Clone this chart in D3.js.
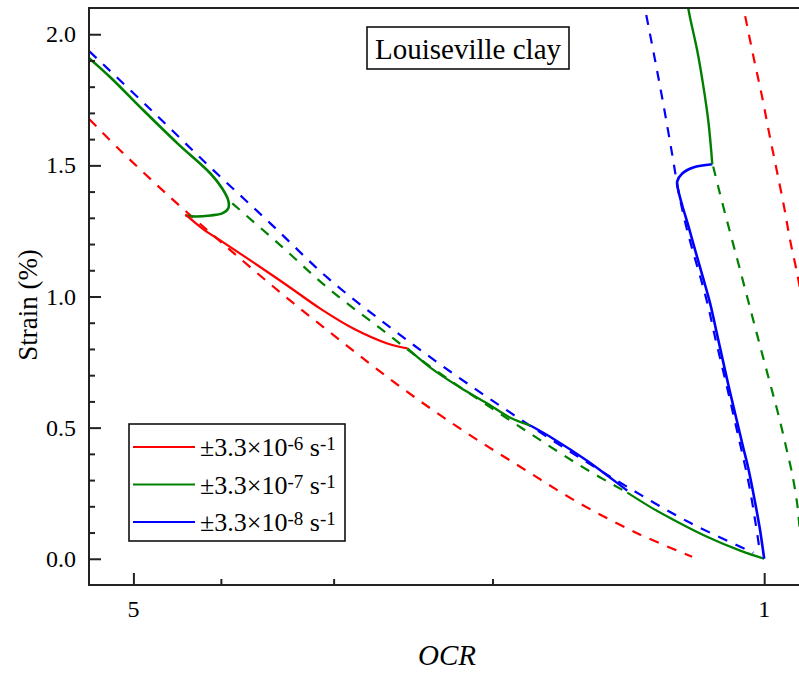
<!DOCTYPE html>
<html>
<head>
<meta charset="utf-8">
<script src="https://cdn.jsdelivr.net/npm/d3@7"></script>
</head>
<body style="margin:0">
<svg id="chart" width="799" height="673"></svg>
<script>
// ---- Data: [OCR, strain (%)] ----
// Measured curves (solid), one array per strain-rate stage
const testRate6 = [[4.379,1.313],[4.182,1.256],[4.006,1.214],[3.682,1.130],[3.377,1.042],[3.104,0.954],[2.853,0.878],[2.616,0.821],[2.485,0.802]];
const testRate7Upper = [[5.595,1.908],[5.304,1.836],[4.875,1.710],[4.469,1.584],[4.108,1.469],[3.986,1.412],[3.925,1.366],[3.925,1.336],[3.986,1.317],[4.108,1.309],[4.269,1.305],[4.379,1.309]];
const testRate7Mid = [[2.485,0.802],[2.344,0.729],[2.172,0.653],[2.027,0.592],[1.911,0.538],[1.816,0.508]];
const testRate8Mid = [[1.816,0.508],[1.713,0.458],[1.571,0.374],[1.481,0.309],[1.418,0.260]];
const testRate7Low = [[1.418,0.252],[1.338,0.198],[1.261,0.149],[1.157,0.084],[1.063,0.031],[1.0,0.0]];
const testRate8Reload = [[1.0,0.0],[1.0103,0.107],[1.018,0.172],[1.0417,0.347],[1.0550,0.424],[1.0768,0.553],[1.0934,0.649],[1.1130,0.767],[1.1302,0.870],[1.1477,0.973],[1.1683,1.069],[1.1925,1.176],[1.2139,1.271],[1.2325,1.347],[1.2451,1.405],[1.2484,1.439],[1.2325,1.469],[1.1985,1.492],[1.1417,1.504]];
const testRate7Reload = [[1.1417,1.504],[1.1448,1.557],[1.1535,1.672],[1.1683,1.805],[1.1865,1.939],[1.2078,2.061],[1.217,2.12]];

// Model predictions (dashed)
const modelRate6 = [[5.595,1.676],[5.17,1.557],[4.55,1.378],[4.006,1.210],[3.436,1.015],[2.949,0.832],[2.531,0.656],[2.172,0.496],[1.864,0.351],[1.599,0.210],[1.372,0.092],[1.202,0.008]];
const modelRate6Reload = [[1.0497,2.069],[1.0258,1.901],[1.0051,1.760],[0.9873,1.622],[0.9699,1.492],[0.9503,1.340],[0.9359,1.214],[0.9193,1.088],[0.9100,1.004]];
const modelRate7 = [[3.885,1.355],[3.436,1.195],[3.041,1.031],[2.663,0.878],[2.344,0.733],[2.064,0.603],[1.816,0.477],[1.599,0.355],[1.418,0.252]];
const modelRate7Reload = [[1.139,1.496],[1.124,1.416],[1.105,1.317],[1.085,1.214],[1.066,1.115],[1.044,0.996],[1.0232,0.882],[1.0026,0.767],[0.9823,0.653],[0.9625,0.538],[0.9454,0.424],[0.9311,0.324],[0.9193,0.210],[0.9147,0.137],[0.9100,0.050]];
const modelRate8 = [[5.595,1.935],[4.789,1.714],[4.108,1.492],[3.526,1.279],[3.041,1.069],[2.597,0.882],[2.228,0.714],[1.911,0.557],[1.640,0.408],[1.407,0.267],[1.208,0.137],[1.028,0.023]];
const modelRate8Reload = [[1.351,2.073],[1.321,1.901],[1.291,1.718],[1.264,1.538],[1.2451,1.405],[1.2232,1.282],[1.1985,1.168],[1.174,1.061],[1.1535,0.962],[1.136,0.859],[1.116,0.748],[1.096,0.634],[1.0768,0.519],[1.058,0.405],[1.039,0.279],[1.0232,0.145],[1.0103,0.019]];

// Axis ticks
const ocrMajorTicks = [5, 1];
const ocrMinorTicks = [4, 3, 2];
const strainMajorTicks = [0, 0.5, 1.0, 1.5, 2.0];
const strainMinorTicks = [0.1,0.2,0.3,0.4,0.6,0.7,0.8,0.9,1.1,1.2,1.3,1.4,1.6,1.7,1.8,1.9];

// Legend entries
const legendRates = ["-6", "-7", "-8"];
const colors = { r6: "#ff0000", r7: "#008000", r8: "#0000ff" };

// ---- Layout ----
const serif = "Liberation Serif";
const svg = d3.select("#chart");
const plotLeft = 89, plotRight = 799, plotTop = 8, plotBottom = 585;

const x = d3.scaleLog().domain([5.6, 0.915]).range([plotLeft, plotRight]);
const y = d3.scaleLinear().domain([-0.1, 2.1]).range([plotBottom, plotTop]);

svg.append("rect").attr("width", 799).attr("height", 673).attr("fill", "#fff");

svg.append("defs").append("clipPath").attr("id", "plotClip")
  .append("rect").attr("x", plotLeft).attr("y", plotTop)
  .attr("width", plotRight - plotLeft).attr("height", plotBottom - plotTop);

const plot = svg.append("g").attr("clip-path", "url(#plotClip)");

const line = d3.line()
  .x(d => x(d[0]))
  .y(d => y(d[1]))
  .curve(d3.curveCatmullRom.alpha(0.5));

const dashed = [
  [modelRate6, colors.r6], [modelRate6Reload, colors.r6],
  [modelRate7, colors.r7], [modelRate7Reload, colors.r7],
  [modelRate8, colors.r8], [modelRate8Reload, colors.r8]
];
dashed.forEach(([data, c]) => {
  plot.append("path").datum(data)
    .attr("d", line).attr("fill", "none")
    .attr("stroke", c).attr("stroke-width", 2.2)
    .attr("stroke-dasharray", "10,9");
});

// Noisier measured stretches are drawn a little heavier
const solid = [
  [testRate7Upper, colors.r7, 2.6], [testRate6, colors.r6, 2.2],
  [testRate7Mid, colors.r7, 2.2], [testRate8Mid, colors.r8, 2.4],
  [testRate7Low, colors.r7, 2.2], [testRate8Reload, colors.r8, 2.6],
  [testRate7Reload, colors.r7, 2.4]
];
solid.forEach(([data, c, w]) => {
  plot.append("path").datum(data)
    .attr("d", line).attr("fill", "none")
    .attr("stroke", c).attr("stroke-width", w)
    .attr("stroke-linejoin", "round");
});

// ---- Axes (ticks point inward) ----
const axisColor = "#222";
const xMajor = svg.append("g").attr("transform", `translate(0,${plotBottom})`)
  .call(d3.axisBottom(x).tickValues(ocrMajorTicks).tickFormat("").tickSize(-12));
const xMinor = svg.append("g").attr("transform", `translate(0,${plotBottom})`)
  .call(d3.axisBottom(x).tickValues(ocrMinorTicks).tickFormat("").tickSize(-6));
const yMajor = svg.append("g").attr("transform", `translate(${plotLeft},0)`)
  .call(d3.axisLeft(y).tickValues(strainMajorTicks).tickFormat("").tickSize(-12));
const yMinor = svg.append("g").attr("transform", `translate(${plotLeft},0)`)
  .call(d3.axisLeft(y).tickValues(strainMinorTicks).tickFormat("").tickSize(-6));

[xMajor, xMinor, yMajor, yMinor].forEach(g => {
  g.select(".domain").remove();
  g.selectAll("text").remove();
  g.selectAll("line").attr("stroke", axisColor).attr("stroke-width", 2);
});

// Tick labels
function label(txt, px, py, size, anchor) {
  return svg.append("text").attr("x", px).attr("y", py)
    .attr("font-family", serif).style("font-family", serif)
    .attr("font-size", size).attr("text-anchor", anchor || "middle")
    .attr("fill", "#000").text(txt);
}
ocrMajorTicks.forEach(v => label(d3.format("d")(v), x(v), 617, 24));
strainMajorTicks.forEach(v => label(d3.format(".1f")(v), 76, y(v) + 8, 24, "end"));

// Frame: left, bottom, top
svg.append("path")
  .attr("d", `M${plotRight + 2},${plotTop} H${plotLeft} V${plotBottom} H${plotRight + 2}`)
  .attr("fill", "none").attr("stroke", axisColor).attr("stroke-width", 2);

// Axis titles
label("OCR", 447, 665, 29).attr("font-style", "italic").style("font-style", "italic");
svg.append("text").attr("transform", "translate(37,305) rotate(-90)").attr("text-anchor", "middle")
  .attr("font-family", serif).style("font-family", serif)
  .attr("font-size", 27).text("Strain (%)");

// Title box
svg.append("rect").attr("x", 367).attr("y", 27).attr("width", 202).attr("height", 42)
  .attr("fill", "#fff").attr("stroke", "#111").attr("stroke-width", 1.6);
label("Louiseville clay", 468, 59, 29);

// Legend
svg.append("rect").attr("x", 129).attr("y", 424).attr("width", 216).attr("height", 117)
  .attr("fill", "#fff").attr("stroke", "#111").attr("stroke-width", 1.6);
const legendColors = [colors.r6, colors.r7, colors.r8];
legendRates.forEach((r, i) => {
  const ly = 447 + i * 37.5;
  svg.append("line").attr("x1", 133).attr("x2", 195).attr("y1", ly).attr("y2", ly)
    .attr("stroke", legendColors[i]).attr("stroke-width", 2.2);
  const t = label("", 200, ly + 9, 26, "start");
  t.append("tspan").text("\u00b13.3\u00d710");
  t.append("tspan").attr("dy", -6).attr("font-size", 19).text(r);
  t.append("tspan").attr("dy", 6).text(" s");
  t.append("tspan").attr("dy", -6).attr("font-size", 19).text("-1");
});
</script>
</body>
</html>
